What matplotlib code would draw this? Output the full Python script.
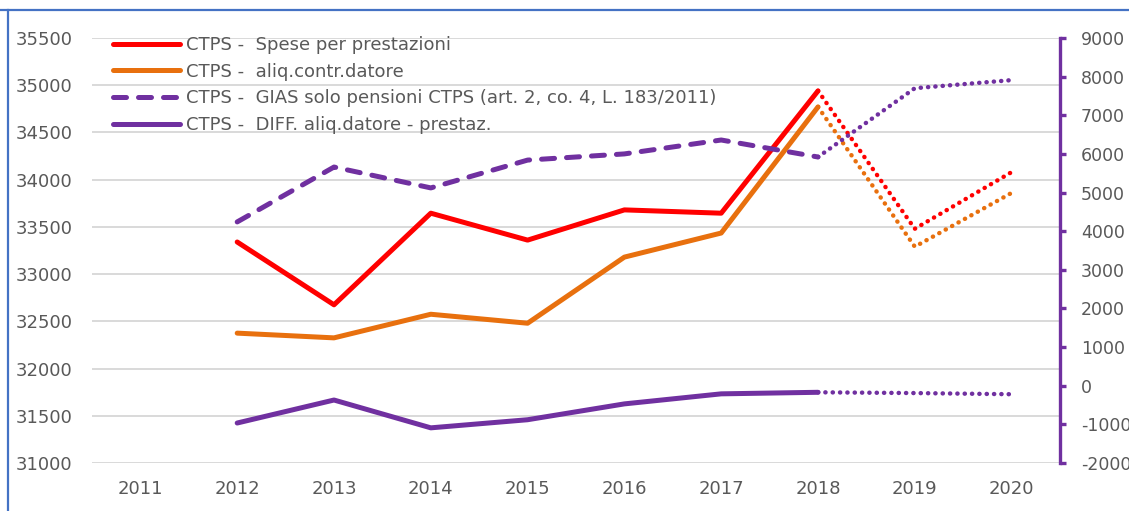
import matplotlib
matplotlib.use("Agg")
import matplotlib.pyplot as plt
from matplotlib.lines import Line2D

# --- data
YEARS = [2012, 2013, 2014, 2015, 2016, 2017, 2018, 2019, 2020]
X_TICKS = list(range(2011, 2021))
SPESE = [33340, 32675, 33645, 33360, 33680, 33645, 34940, 33480, 34080]
ALIQ = [32375, 32325, 32575, 32480, 33180, 33435, 34770, 33290, 33860]
GIAS = [4240, 5660, 5120, 5840, 6000, 6360, 5920, 7700, 7910]
DIFF = [-965, -370, -1090, -880, -470, -210, -170, -190, -220]
SPLIT = 6  # index of 2018: solid up to here, dotted after

LABELS = [
    "CTPS -  Spese per prestazioni",
    "CTPS -  aliq.contr.datore",
    "CTPS -  GIAS solo pensioni CTPS (art. 2, co. 4, L. 183/2011)",
    "CTPS -  DIFF. aliq.datore - prestaz.",
]

RED = "#FF0000"
ORANGE = "#E8700E"
PURPLE = "#7030A0"
GRID = "#D9D9D9"
TXT = "#595959"
BORDER = "#4472C4"

FS = 13
LW = 3.6
DOT = (0, (0.05, 1.6))
DASH = (0, (2.6, 2.4))

plt.rcParams["font.family"] = ["DejaVu Sans"]
plt.rcParams["axes.unicode_minus"] = False

fig = plt.figure(figsize=(11.29, 5.11), dpi=100)
ax = fig.add_axes([92 / 1129, 1 - 463 / 511, 968 / 1129, 425 / 511])
ax2 = ax.twinx()


def draw(axis, vals, color, solid_style):
    axis.plot(YEARS[:SPLIT + 1], vals[:SPLIT + 1], color=color, lw=LW,
              linestyle=solid_style, solid_capstyle="round",
              dash_capstyle="round", solid_joinstyle="round")
    axis.plot(YEARS[SPLIT:], vals[SPLIT:], color=color, lw=3.2,
              linestyle=DOT, dash_capstyle="round")


draw(ax, SPESE, RED, "-")
draw(ax, ALIQ, ORANGE, "-")
draw(ax2, GIAS, PURPLE, DASH)
draw(ax2, DIFF, PURPLE, "-")

ax.set_xlim(2010.5, 2020.5)
ax.set_ylim(31000, 35500)
ax.set_yticks(range(31000, 35501, 500))
ax.set_xticks(X_TICKS)
ax.grid(True, axis="y", color=GRID, lw=1.4)
ax.set_axisbelow(True)
ax.tick_params(axis="y", length=0, pad=14, labelsize=FS, labelcolor=TXT)
ax.tick_params(axis="x", length=0, pad=12, labelsize=FS, labelcolor=TXT)
for s in ax.spines.values():
    s.set_visible(False)

ax2.set_ylim(-2000, 9000)
ax2.set_yticks(range(-2000, 9001, 1000))
for name, s in ax2.spines.items():
    s.set_visible(name == "right")
ax2.spines["right"].set_color(PURPLE)
ax2.spines["right"].set_linewidth(2.4)
ax2.spines["right"].set_capstyle("projecting")
ax2.tick_params(axis="y", direction="out", length=4, width=2.4,
                color=PURPLE, pad=11, labelsize=12.5, labelcolor=TXT)

handles = [
    Line2D([], [], color=RED, lw=LW, solid_capstyle="round"),
    Line2D([], [], color=ORANGE, lw=LW, solid_capstyle="round"),
    Line2D([], [], color=PURPLE, lw=LW, linestyle=DASH, dash_capstyle="round"),
    Line2D([], [], color=PURPLE, lw=LW, solid_capstyle="round"),
]
leg = ax2.legend(handles, LABELS, loc="upper left", bbox_to_anchor=(0.022, 1.005),
                 frameon=False, fontsize=FS, handlelength=3.7, handletextpad=0.35,
                 labelspacing=0.48, borderpad=0, borderaxespad=0)
for t in leg.get_texts():
    t.set_color(TXT)

# outer chart border (only top and left visible in the crop)
fig.add_artist(Line2D([0, 1], [1 - 10 / 511] * 2, color=BORDER, lw=1.6,
                      transform=fig.transFigure))
fig.add_artist(Line2D([7.5 / 1129] * 2, [0, 1 - 10 / 511], color=BORDER, lw=1.6,
                      transform=fig.transFigure))

fig.savefig("out.png", dpi=100, facecolor="white")
